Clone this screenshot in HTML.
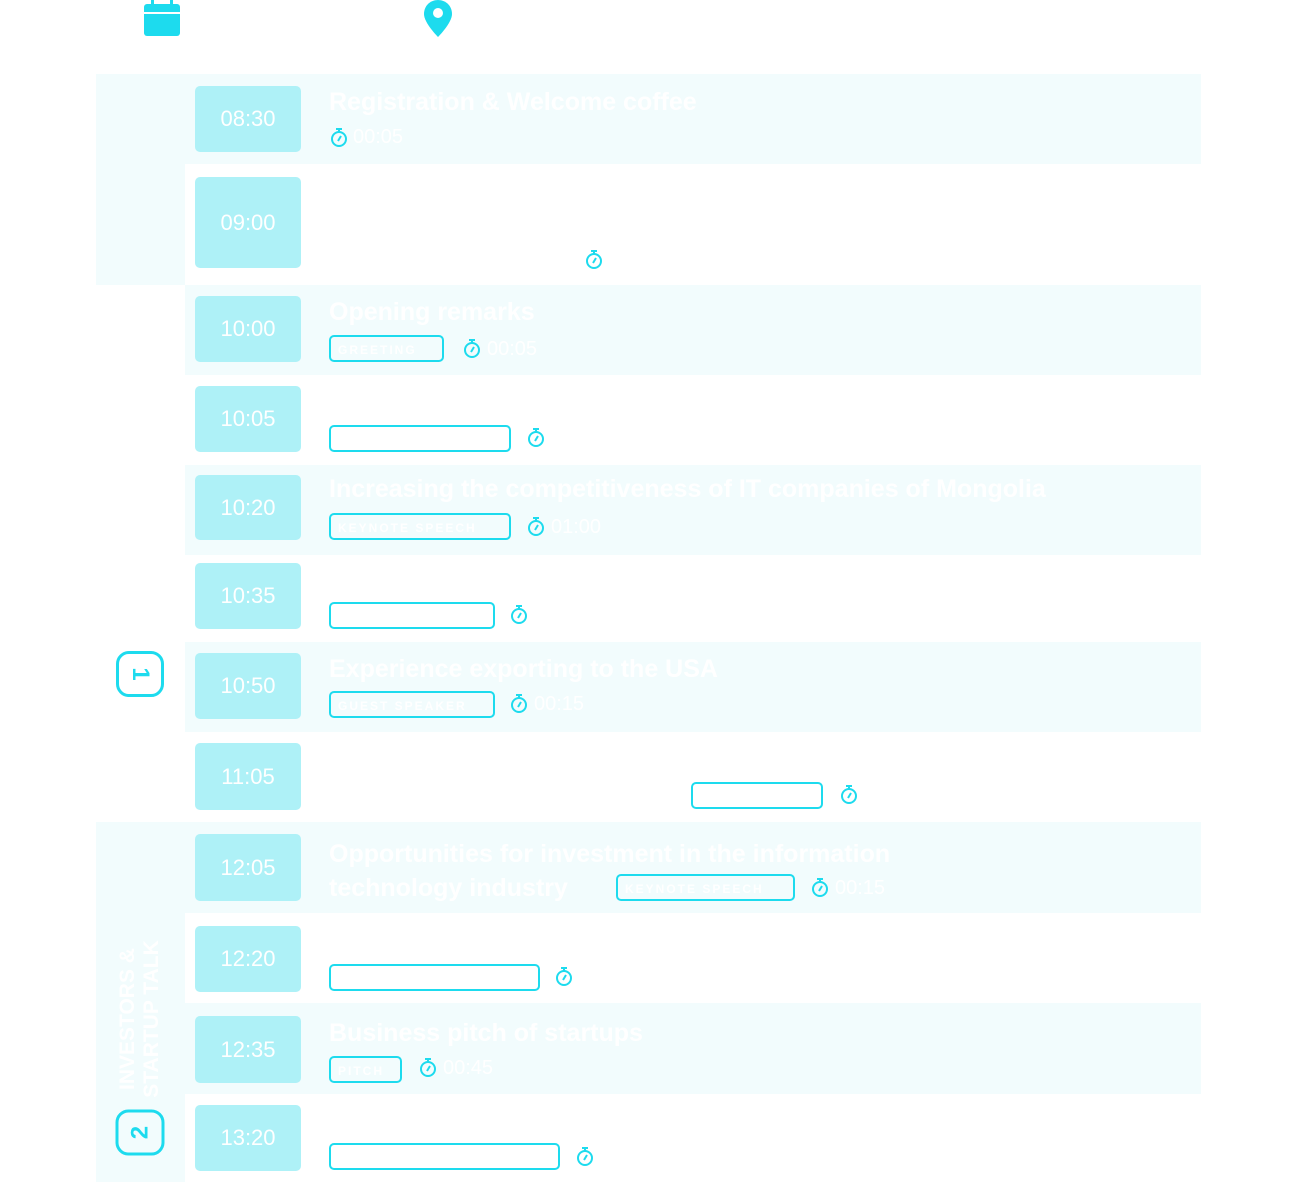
<!DOCTYPE html>
<html><head><meta charset="utf-8"><style>
*{margin:0;padding:0;box-sizing:border-box}
body{width:1295px;height:1182px;background:#fff;position:relative;overflow:hidden;font-family:"Liberation Sans",sans-serif}
.a{position:absolute}
.bg{background:#f2fcfd}
.t{position:absolute;left:195px;width:106px;background:#aef1f7;border-radius:5px;color:#fff;font-size:22px;display:flex;align-items:center;justify-content:center}
.ti{position:absolute;left:329px;color:#fff;font-weight:bold;font-size:25px;white-space:nowrap}
.tag{position:absolute;height:27px;border:2px solid #1ddbee;border-radius:5px;color:#fff;font-size:12px;font-weight:bold;letter-spacing:2px;padding:6px 0 0 7px;white-space:nowrap;overflow:hidden}
.sw{position:absolute;width:18px;height:20px}
.d{position:absolute;color:#fff;font-size:20px}
</style></head><body>
<!-- header icons -->
<svg class="a" style="left:144px;top:0" width="37" height="37" viewBox="0 0 37 37"><rect x="0" y="4" width="36" height="32" rx="3" fill="#1ddbee"/><rect x="7" y="0" width="3" height="8" fill="#1ddbee"/><rect x="26" y="0" width="3" height="8" fill="#1ddbee"/><rect x="0" y="12" width="36" height="2" fill="#fff"/></svg>
<svg class="a" style="left:424px;top:0" width="28" height="38" viewBox="0 0 28 38"><path d="M14 0C6 0 0 6 0 14c0 9 14 23 14 23s14-14 14-23C28 6 22 0 14 0z" fill="#1ddbee"/><circle cx="14" cy="13" r="5" fill="#fff"/></svg>

<!-- left column backgrounds -->
<div class="a bg" style="left:96px;top:74px;width:89px;height:211px"></div>
<div class="a bg" style="left:96px;top:822px;width:89px;height:360px"></div>
<!-- row bands -->
<div class="a bg" style="left:185px;top:74px;width:1016px;height:90px"></div>
<div class="a bg" style="left:185px;top:285px;width:1016px;height:90px"></div>
<div class="a bg" style="left:185px;top:465px;width:1016px;height:90px"></div>
<div class="a bg" style="left:185px;top:642px;width:1016px;height:90px"></div>
<div class="a bg" style="left:185px;top:822px;width:1016px;height:91px"></div>
<div class="a bg" style="left:185px;top:1003px;width:1016px;height:91px"></div>

<!-- badges -->
<div class="a" style="left:117px;top:650px;width:46px;height:48px;border:3px solid #1ddbee;border-radius:13px;color:#1ddbee;font-weight:bold;font-size:24px;display:flex;align-items:center;justify-content:center;transform:rotate(90deg)">1</div>
<div class="a" style="left:117px;top:1108px;width:46px;height:49px;border:3px solid #1ddbee;border-radius:13px;color:#1ddbee;font-weight:bold;font-size:24px;display:flex;align-items:center;justify-content:center;transform:rotate(-90deg)">2</div>
<div class="a" style="left:40px;top:995px;width:200px;height:48px;transform:rotate(-90deg);color:#fff;font-weight:bold;font-size:21px;line-height:24px;text-align:center">INVESTORS &amp;<br>STARTUP TALK</div>

<!-- time boxes -->
<div class="t" style="top:86px;height:66px">08:30</div>
<div class="t" style="top:177px;height:91px">09:00</div>
<div class="t" style="top:296px;height:66px">10:00</div>
<div class="t" style="top:386px;height:66px">10:05</div>
<div class="t" style="top:475px;height:65px">10:20</div>
<div class="t" style="top:563px;height:66px">10:35</div>
<div class="t" style="top:653px;height:66px">10:50</div>
<div class="t" style="top:743px;height:67px">11:05</div>
<div class="t" style="top:834px;height:67px">12:05</div>
<div class="t" style="top:926px;height:66px">12:20</div>
<div class="t" style="top:1016px;height:67px">12:35</div>
<div class="t" style="top:1105px;height:66px">13:20</div>

<!-- titles -->
<div class="ti" style="top:88px">Registration &amp; Welcome coffee</div>
<div class="ti" style="top:298px">Opening remarks</div>
<div class="ti" style="top:475px">Increasing the competitiveness of IT companies of Mongolia</div>
<div class="ti" style="top:655px">Experience exporting to the USA</div>
<div class="ti" style="top:837px;line-height:34px">Opportunities for investment in the information<br>technology industry</div>
<div class="ti" style="top:1019px">Business pitch of startups</div>

<!-- tags -->
<div class="tag" style="left:329px;top:335px;width:115px">GREETING</div>
<div class="tag" style="left:329px;top:425px;width:182px"></div>
<div class="tag" style="left:329px;top:513px;width:182px">KEYNOTE SPEECH</div>
<div class="tag" style="left:329px;top:602px;width:166px"></div>
<div class="tag" style="left:329px;top:691px;width:166px">GUEST SPEAKER</div>
<div class="tag" style="left:691px;top:782px;width:132px"></div>
<div class="tag" style="left:616px;top:874px;width:179px">KEYNOTE SPEECH</div>
<div class="tag" style="left:329px;top:964px;width:211px"></div>
<div class="tag" style="left:329px;top:1056px;width:73px">PITCH</div>
<div class="tag" style="left:329px;top:1143px;width:231px"></div>

<!-- stopwatches -->
<svg width="0" height="0" style="position:absolute"><defs><symbol id="s" viewBox="0 0 18 20"><circle cx="9" cy="12" r="7" fill="none" stroke="#1ddbee" stroke-width="2"/><rect x="6" y="1" width="6" height="2" fill="#1ddbee"/><rect x="8" y="2" width="2" height="3" fill="#1ddbee"/><line x1="8" y1="14" x2="11" y2="9" stroke="#1ddbee" stroke-width="2"/></symbol></defs></svg>
<svg class="sw" style="left:330px;top:127px"><use href="#s"/></svg>
<svg class="sw" style="left:585px;top:249px"><use href="#s"/></svg>
<svg class="sw" style="left:463px;top:338px"><use href="#s"/></svg>
<svg class="sw" style="left:527px;top:427px"><use href="#s"/></svg>
<svg class="sw" style="left:527px;top:516px"><use href="#s"/></svg>
<svg class="sw" style="left:510px;top:604px"><use href="#s"/></svg>
<svg class="sw" style="left:510px;top:693px"><use href="#s"/></svg>
<svg class="sw" style="left:840px;top:784px"><use href="#s"/></svg>
<svg class="sw" style="left:811px;top:877px"><use href="#s"/></svg>
<svg class="sw" style="left:555px;top:966px"><use href="#s"/></svg>
<svg class="sw" style="left:419px;top:1057px"><use href="#s"/></svg>
<svg class="sw" style="left:576px;top:1146px"><use href="#s"/></svg>

<!-- durations -->
<div class="d" style="left:353px;top:126px">00:05</div>
<div class="d" style="left:487px;top:338px">00:05</div>
<div class="d" style="left:551px;top:516px">01:00</div>
<div class="d" style="left:534px;top:693px">00:15</div>
<div class="d" style="left:835px;top:877px">00:15</div>
<div class="d" style="left:443px;top:1057px">00:45</div>
</body></html>
